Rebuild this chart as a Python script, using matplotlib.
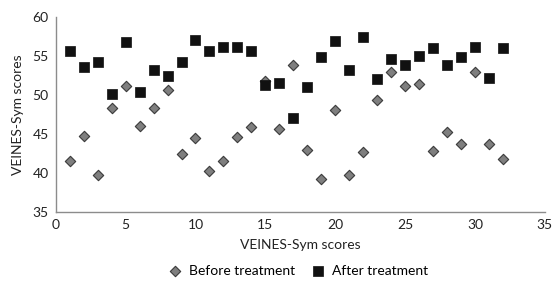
import matplotlib
matplotlib.use('Agg')
import matplotlib.pyplot as plt
import numpy as np

plt.rcParams['font.family'] = ['Lato', 'DejaVu Sans']

patients = np.arange(1, 33)
before = [41.5, 44.7, 39.7, 48.3, 51.1, 46.0, 48.3, 50.7, 42.4, 44.5, 40.3, 41.6,
          44.6, 45.9, 51.8, 45.7, 53.8, 42.9, 39.2, 48.1, 39.8, 42.7, 49.4, 53.0,
          51.2, 51.4, 42.8, 45.3, 43.7, 53.0, 43.7, 41.8]
after = [55.6, 53.6, 54.3, 50.1, 56.8, 50.4, 53.2, 52.4, 54.3, 57.0, 55.7, 56.2,
         56.2, 55.7, 51.3, 51.6, 47.1, 51.0, 54.9, 56.9, 53.2, 57.4, 52.1, 54.6,
         53.9, 55.0, 56.1, 53.8, 54.9, 56.2, 52.2, 56.1]

fig = plt.figure(figsize=(5.52, 2.85), dpi=100)
ax = fig.add_axes([0.101, 0.256, 0.886, 0.684])

ax.scatter(patients, before, marker='D', s=28, color='#7f7f7f', edgecolors='#3a3a3a',
           linewidths=0.8, label='Before treatment', zorder=3)
ax.scatter(patients, after, marker='s', s=50, color='#111111', edgecolors='#111111',
           linewidths=0.5, label='After treatment', zorder=3)

ax.set_xlim(0, 35)
ax.set_ylim(35, 60)
ax.set_xticks(np.arange(0, 36, 5))
ax.set_yticks(np.arange(35, 61, 5))
for s in ['top', 'right']:
    ax.spines[s].set_visible(False)
for s in ['left', 'bottom']:
    ax.spines[s].set_color('#8c8c8c')
    ax.spines[s].set_linewidth(1.0)
ax.tick_params(length=0, labelsize=10, colors='#222222', pad=5)

ax.set_xlabel('VEINES-Sym scores', fontsize=10, color='#222222', labelpad=6)
ax.set_ylabel('VEINES-Sym scores', fontsize=10, color='#222222', labelpad=6)

ax.legend(loc='center', bbox_to_anchor=(0.497, -0.30), ncol=2, frameon=False,
          fontsize=10, handlelength=0.8, handletextpad=0.6, columnspacing=1.2,
          borderpad=0)

fig.savefig('out.png', dpi=100)
